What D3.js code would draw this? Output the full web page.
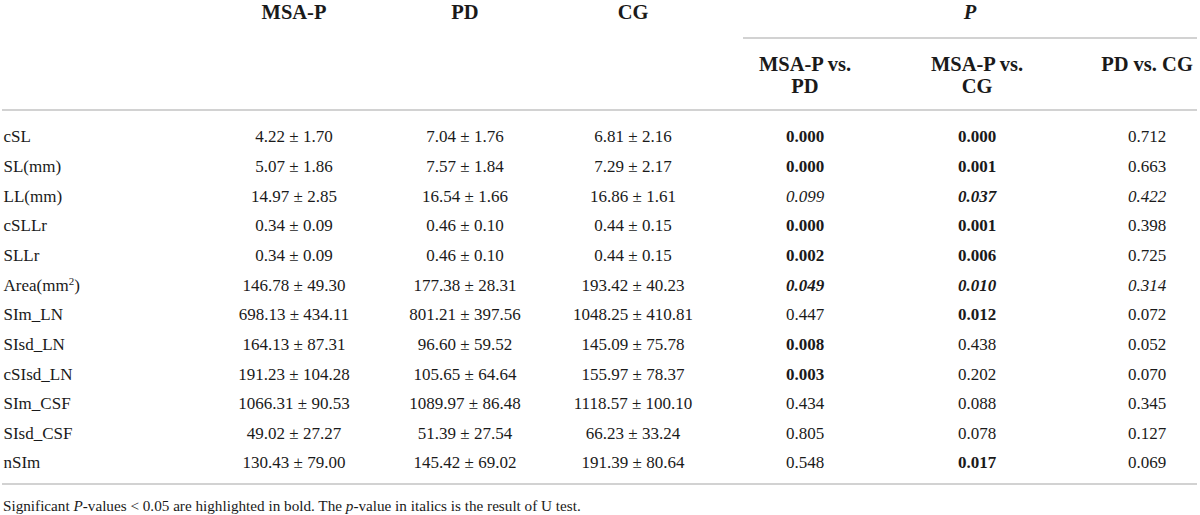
<!DOCTYPE html>
<html>
<head>
<meta charset="utf-8">
<script src="https://cdn.jsdelivr.net/npm/d3@7"></script>
<style>
  body { margin: 0; background: #fff; }
  text { font-family: "Liberation Serif", "DejaVu Serif", serif; fill: #1a1a1a; }
</style>
</head>
<body>
<div id="table-area"></div>
<script>
// row labels
const rowLabels = ["cSL", "SL(mm)", "LL(mm)", "cSLLr", "SLLr", "Area(mm2)",
  "SIm_LN", "SIsd_LN", "cSIsd_LN", "SIm_CSF", "SIsd_CSF", "nSIm"];

// group means / sd
const msaMean = [4.22, 5.07, 14.97, 0.34, 0.34, 146.78, 698.13, 164.13, 191.23, 1066.31, 49.02, 130.43];
const msaSd   = [1.70, 1.86, 2.85, 0.09, 0.09, 49.30, 434.11, 87.31, 104.28, 90.53, 27.27, 79.00];
const pdMean  = [7.04, 7.57, 16.54, 0.46, 0.46, 177.38, 801.21, 96.60, 105.65, 1089.97, 51.39, 145.42];
const pdSd    = [1.76, 1.84, 1.66, 0.10, 0.10, 28.31, 397.56, 59.52, 64.64, 86.48, 27.54, 69.02];
const cgMean  = [6.81, 7.29, 16.86, 0.44, 0.44, 193.42, 1048.25, 145.09, 155.97, 1118.57, 66.23, 191.39];
const cgSd    = [2.16, 2.17, 1.61, 0.15, 0.15, 40.23, 410.81, 75.78, 78.37, 100.10, 33.24, 80.64];

// p values
const pMsaPd = [0.000, 0.000, 0.099, 0.000, 0.002, 0.049, 0.447, 0.008, 0.003, 0.434, 0.805, 0.548];
const pMsaCg = [0.000, 0.001, 0.037, 0.001, 0.006, 0.010, 0.012, 0.438, 0.202, 0.088, 0.078, 0.017];
const pPdCg  = [0.712, 0.663, 0.422, 0.398, 0.725, 0.314, 0.072, 0.052, 0.070, 0.345, 0.127, 0.069];

// rows where the U test was used (italic)
const uTest = [false, false, true, false, false, true, false, false, false, false, false, false];

const groupHeaders = ["MSA-P", "PD", "CG"];
const compareHeaders = [["MSA-P vs.", "PD"], ["MSA-P vs.", "CG"], ["PD vs. CG"]];
const footnote = ["Significant ", "P", "-values < 0.05 are highlighted in bold. The ", "p", "-value in italics is the result of U test."];

// SETUP
const width = 1200;
const height = 515;
const fmt2 = d3.format(".2f");
const fmt3 = d3.format(".3f");

const svg = d3.select("#table-area")
  .append("svg")
  .attr("width", width)
  .attr("height", height);

const colKeys = ["msa", "pd", "cg", "pMsaPd", "pMsaCg", "pPdCg"];
const x = d3.scaleOrdinal()
  .domain(colKeys)
  .range([294, 465, 633, 805, 977, 1147]);

const y = d3.scalePoint()
  .domain(rowLabels)
  .range([136.5, 462.5]);

// rules
const lineColor = "#d2d2d2";
svg.append("line")
  .attr("x1", 743).attr("x2", 1197).attr("y1", 38).attr("y2", 38)
  .attr("stroke", lineColor).attr("stroke-width", 2);
svg.append("line")
  .attr("x1", 2).attr("x2", 1197).attr("y1", 110).attr("y2", 110)
  .attr("stroke", lineColor).attr("stroke-width", 2);
svg.append("line")
  .attr("x1", 2).attr("x2", 1197).attr("y1", 484).attr("y2", 484)
  .attr("stroke", lineColor).attr("stroke-width", 2);

// headers
const header = svg.append("g")
  .attr("font-weight", "bold")
  .attr("font-size", "20.5px")
  .attr("text-anchor", "middle");

header.selectAll(".group")
  .data(groupHeaders)
  .enter()
  .append("text")
  .attr("class", "group")
  .attr("x", (d, i) => x(colKeys[i]))
  .attr("y", 11.7)
  .attr("dy", "0.35em")
  .text(d => d);

header.append("text")
  .attr("x", 970)
  .attr("y", 11.7)
  .attr("dy", "0.35em")
  .attr("font-style", "italic")
  .text("P");

// sub headers, one text per line
compareHeaders.forEach((lines, i) => {
  lines.forEach((l, j) => {
    header.append("text")
      .attr("x", x(colKeys[i + 3]))
      .attr("y", 64 + j * 22)
      .attr("dy", "0.35em")
      .text(l);
  });
});

// body
const body = svg.append("g").attr("font-size", "17px");

const rows = body.selectAll(".row")
  .data(rowLabels)
  .enter()
  .append("g")
  .attr("class", "row")
  .attr("transform", d => `translate(0,${y(d)})`);

rows.append("text")
  .attr("x", 3.5)
  .attr("dy", "0.35em")
  .each(function(d) {
    const t = d3.select(this);
    if (d === "Area(mm2)") {
      t.append("tspan").text("Area(mm");
      t.append("tspan").attr("font-size", "11px").attr("dy", "-6").text("2");
      t.append("tspan").attr("dy", "6").text(")");
    } else {
      t.text(d);
    }
  });

const meanSd = [[msaMean, msaSd], [pdMean, pdSd], [cgMean, cgSd]];
meanSd.forEach((pair, c) => {
  rows.append("text")
    .attr("x", x(colKeys[c]))
    .attr("dy", "0.35em")
    .attr("text-anchor", "middle")
    .text((d, i) => `${fmt2(pair[0][i])} ± ${fmt2(pair[1][i])}`);
});

const pCols = [pMsaPd, pMsaCg, pPdCg];
pCols.forEach((vals, c) => {
  rows.append("text")
    .attr("x", x(colKeys[c + 3]))
    .attr("dy", "0.35em")
    .attr("text-anchor", "middle")
    .attr("font-weight", (d, i) => vals[i] < 0.05 ? "bold" : "normal")
    .attr("font-style", (d, i) => uTest[i] ? "italic" : "normal")
    .text((d, i) => fmt3(vals[i]));
});

// footnote
const foot = svg.append("text")
  .attr("x", 3)
  .attr("y", 506)
  .attr("dy", "0.35em")
  .attr("font-size", "15.2px");
foot.selectAll("tspan")
  .data(footnote)
  .enter()
  .append("tspan")
  .attr("font-style", (d, i) => i % 2 === 1 ? "italic" : "normal")
  .text(d => d);
</script>
</body>
</html>
